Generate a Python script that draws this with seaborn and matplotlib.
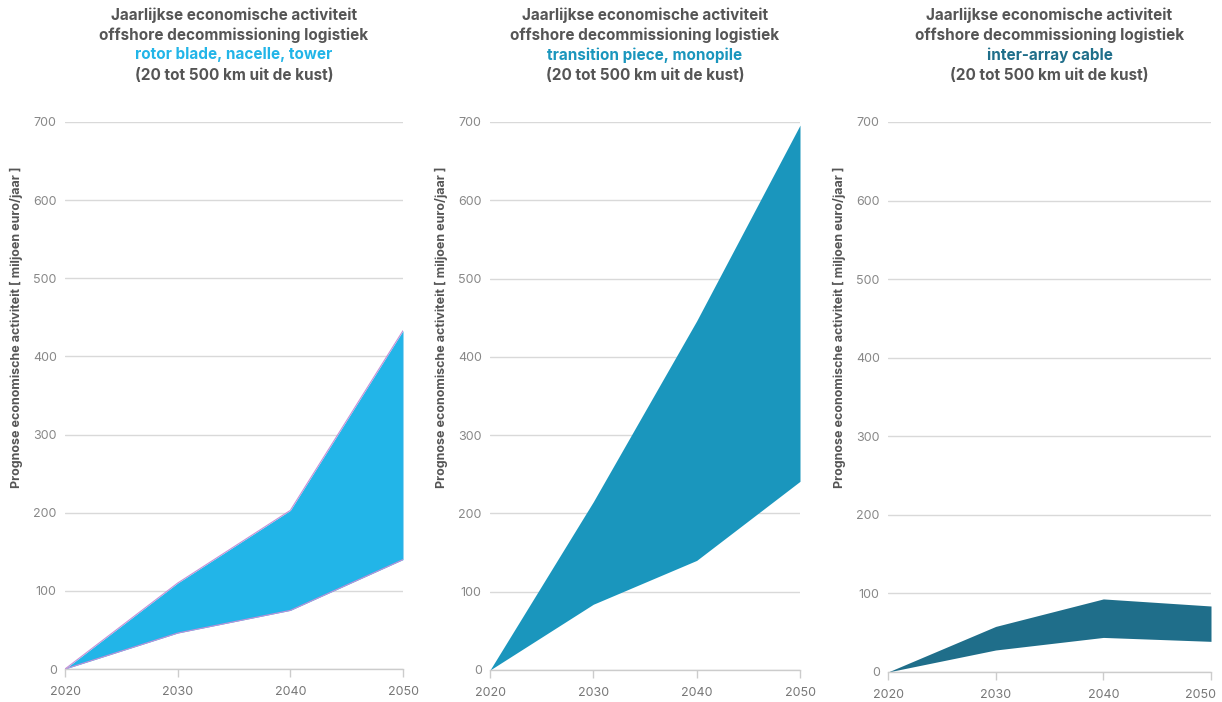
import matplotlib
matplotlib.use("Agg")
import matplotlib.pyplot as plt
import matplotlib.transforms as mtransforms
import seaborn as sns
import pandas as pd

years = [2020, 2030, 2040, 2050]

blade_low = [0, 46, 75, 140]
blade_high = [0, 110, 203, 433]

monopile_low = [0, 84, 140, 241]
monopile_high = [0, 215, 446, 696]

cable_low = [0, 28, 44, 39]
cable_high = [0, 58, 93, 84]

subtitles = ["rotor blade, nacelle, tower", "transition piece, monopile", "inter-array cable"]
colors = ["#22b5e8", "#1a96bd", "#1f6e8a"]
edge_colors = ["#c48fd6", None, None]
y_ticks = [0, 100, 200, 300, 400, 500, 600, 700]
ylabel = "Prognose economische activiteit [ miljoen euro/jaar ]"

sns.set_theme(style="white")
plt.rcParams["font.family"] = ["Inter", "DejaVu Sans"]

W, H = 1222, 702
fig = plt.figure(figsize=(W / 100, H / 100), dpi=100)

# axes boxes in pixels: (left, right, y of zero line, y of top line)
boxes = [(65, 403, 669, 122), (490, 800, 670, 122), (888, 1211, 672, 122)]

series = [(blade_low, blade_high), (monopile_low, monopile_high), (cable_low, cable_high)]

for i, ((x0, x1, yb, yt), (low, high)) in enumerate(zip(boxes, series)):
    ax = fig.add_axes([x0 / W, 1 - yb / H, (x1 - x0) / W, (yb - yt) / H])
    df = pd.DataFrame({"jaar": years, "laag": low, "hoog": high})
    ax.fill_between(df["jaar"], df["laag"], df["hoog"], color=colors[i], linewidth=0)
    if edge_colors[i]:
        sns.lineplot(data=df, x="jaar", y="hoog", ax=ax, color=edge_colors[i], linewidth=0.8)
        sns.lineplot(data=df, x="jaar", y="laag", ax=ax, color=edge_colors[i], linewidth=0.8)
        ax.plot([2050, 2050], [low[-1], high[-1]], color=edge_colors[i], linewidth=0.8)

    ax.set_xlim(2020, 2050)
    ax.set_ylim(0, 700)
    ax.set_xticks(years)
    ax.set_yticks(y_ticks)
    ax.yaxis.grid(True, color="#d9d9d9", linewidth=1)
    ax.set_axisbelow(True)
    for s in ["top", "right", "left"]:
        ax.spines[s].set_visible(False)
    ax.spines["bottom"].set_color("#cccccc")
    ax.spines["bottom"].set_linewidth(1)
    ax.tick_params(axis="x", which="major", length=6, width=1, color="#cccccc",
                   labelsize=9, labelcolor="#777777", pad=6, bottom=True)
    ax.tick_params(axis="y", length=0, labelsize=9, labelcolor="#888888", pad=6)
    ax.set_xlabel("")
    ax.set_ylabel(ylabel, fontsize=9, color="#555555", fontweight="bold")
    ax.yaxis.set_label_coords(-42 / (x1 - x0), (yb - 327) / (yb - yt))

    if i == 2:
        last = ax.get_xticklabels()[-1]
        last.set_transform(last.get_transform() +
                           mtransforms.ScaledTranslation(-0.1, 0, fig.dpi_scale_trans))

    cx = (x0 + x1) / 2 / W
    title_kw = dict(ha="center", va="center", fontsize=11, fontweight="bold")
    fig.text(cx, 1 - 15 / H, "Jaarlijkse economische activiteit", color="#555555", **title_kw)
    fig.text(cx, 1 - 35 / H, "offshore decommissioning logistiek", color="#555555", **title_kw)
    fig.text(cx, 1 - 55 / H, subtitles[i], color=colors[i], **title_kw)
    fig.text(cx, 1 - 75 / H, "(20 tot 500 km uit de kust)", color="#555555", **title_kw)

fig.savefig("out.png", dpi=100, facecolor="white")
